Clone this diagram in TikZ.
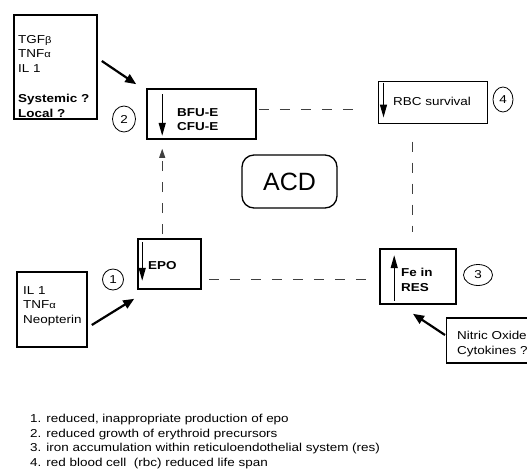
\documentclass[tikz,border=0pt]{standalone}
\usepackage{fontspec}
\setmainfont{Liberation Sans}[FakeStretch=1.17]
\newfontfamily\acdfont{Liberation Sans}
\usetikzlibrary{arrows.meta,positioning,calc,shapes.geometric}
\newcommand{\gk}[1]{{\fontsize{9.5}{14.5}\selectfont #1}}

\begin{document}
\begin{tikzpicture}[
  x=1pt,y=-1pt,
  font=\fontsize{11.5}{14.5}\selectfont,
  box/.style={draw,line width=1.6pt,inner sep=0pt},
  txt/.style={anchor=north west,align=left,inner sep=0pt},
  num/.style={draw,ellipse,line width=0.8pt,inner sep=0pt},
  dsh/.style={draw=black!75,line width=0.9pt,dash pattern=on 10pt off 11pt},
  dwn/.style={line width=1.3pt,-{Triangle[length=13pt,width=7pt]}},
  push/.style={line width=2.2pt,-{Triangle[length=11pt,width=9pt]}}
]
\useasboundingbox (0,0) rectangle (527,472);

% ---------------- inducer boxes
\node[box,minimum width=83pt,minimum height=104pt] (cyto1) at (55.5,67) {};
\node[txt] (cyto1t) at (18,35) {TGF\gk{β}\\TNF\gk{α}\\IL 1\\[16pt]\textbf{Systemic ?}\\\textbf{Local ?}};
\node[box,minimum width=70pt,minimum height=75pt] (cyto2) at (52,309.5) {};
\node[txt] (cyto2t) at (23,286) {IL 1\\TNF\gk{α}\\Neopterin};
\node[box,anchor=west,minimum width=100pt,minimum height=45pt,line width=1.3pt] (nitric) at (446,340.5) {};
\node[txt] (nitrict) at (457,331) {Nitric Oxide\\Cytokines ?};

% ---------------- the four effects
\node[box,minimum width=109pt,minimum height=50pt] (bfu) at (201.5,114) {};
\node[txt,font=\fontsize{11.5}{14.5}\selectfont\bfseries] (bfut) at (177,108) {BFU-E\\CFU-E};
\node[box,minimum width=109pt,minimum height=42pt,line width=1pt] (rbc) at (432.5,102) {};
\node[txt] (rbct) at (393,97) {RBC survival};
\node[box,minimum width=63pt,minimum height=50pt] (epo) at (169.5,264) {};
\node[txt,font=\fontsize{11.5}{14.5}\selectfont\bfseries] (epot) at (148,261) {EPO};
\node[box,minimum width=76pt,minimum height=55pt] (fe) at (418,276.5) {};
\node[txt,font=\fontsize{11.5}{14.5}\selectfont\bfseries] (fet) at (401,268) {Fe in\\RES};

% arrows inside the boxes
\draw[dwn] ([xshift=16pt,yshift=-6pt]bfu.north west) -- ([xshift=16pt,yshift=4pt]bfu.south west);
\draw[dwn] ([xshift=5pt,yshift=-4pt]epo.north west) -- ([xshift=5pt,yshift=9pt]epo.south west);
\draw[dwn] ([xshift=6pt,yshift=-2pt]rbc.north west) -- ([xshift=6pt,yshift=6pt]rbc.south west);
\draw[dwn] ([xshift=15pt,yshift=4pt]fe.south west) -- ([xshift=15pt,yshift=-7pt]fe.north west);

% ---------------- centre
\node[draw,line width=1.3pt,rounded corners=12pt,minimum width=95pt,minimum height=53pt,
  font=\acdfont\fontsize{25}{30}\selectfont] (acd) at (289.5,181.5) {ACD};

% ---------------- numbers
\node[num,minimum width=21pt,minimum height=21pt] (n1) at (113,279.5) {1};
\node[num,minimum width=23pt,minimum height=26pt] (n2) at (124,119) {2};
\node[num,minimum width=29pt,minimum height=21pt] (n3) at (478,275) {3};
\node[num,minimum width=20pt,minimum height=25pt] (n4) at (503,99.5) {4};

% ---------------- dashed links
\draw[dsh,-{Triangle[length=9pt,width=6pt]}] ([xshift=25pt,yshift=4pt]epo.north west) -- ([xshift=16pt,yshift=-9pt]bfu.south west);
\draw[dsh] ([xshift=2pt,yshift=5pt]bfu.east) -- ([xshift=-21pt,yshift=-7pt]rbc.west);
\draw[dsh] ([xshift=-20.5pt,yshift=-18pt]rbc.south) -- ([xshift=-6pt,yshift=16pt]fe.north);
\draw[dsh] ([xshift=7pt,yshift=-15pt]epo.east) -- ([xshift=-5pt,yshift=-2.5pt]fe.west);

% ---------------- inducer arrows
\draw[push] ([xshift=4pt,yshift=6pt]cyto1.east) -- ([xshift=-10pt,yshift=4pt]bfu.north west);
\draw[push] ([xshift=4pt,yshift=-15.5pt]cyto2.east) -- ([xshift=-3pt,yshift=-9pt]epo.south west);
\draw[push] ([xshift=-1pt,yshift=5.5pt]nitric.west) -- ([xshift=-5pt,yshift=-9pt]fe.south);

% ---------------- legend
\node[txt] (notes) at (30,414) {1. reduced, inappropriate production of epo\\
  2. reduced growth of erythroid precursors\\
  3. iron accumulation within reticuloendothelial system (res)\\
  4. red blood cell\ \ (rbc) reduced life span};
\end{tikzpicture}
\end{document}
